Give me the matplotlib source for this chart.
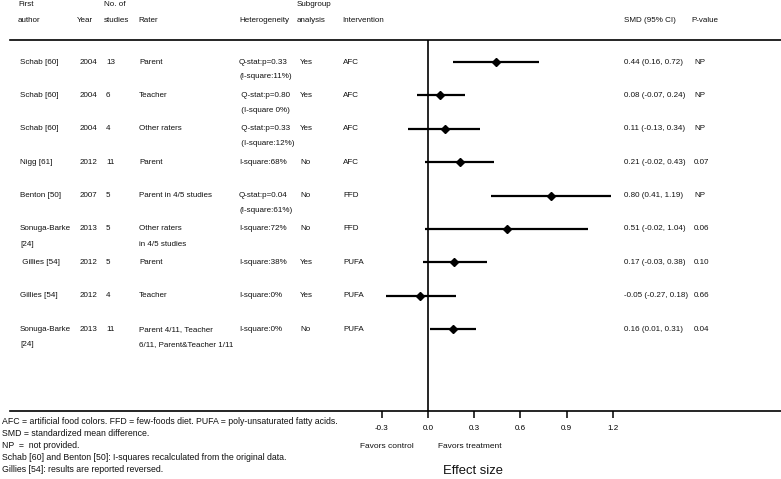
import matplotlib
matplotlib.use("Agg")
import matplotlib.pyplot as plt
from matplotlib import transforms

plt.rcParams['font.family'] = ['Liberation Sans', 'DejaVu Sans']

authors = ["Schab [60]", "Schab [60]", "Schab [60]", "Nigg [61]", "Benton [50]",
           "Sonuga-Barke\n[24]", " Gillies [54]", "Gillies [54]", "Sonuga-Barke\n[24]"]
years = ["2004", "2004", "2004", "2012", "2007", "2013", "2012", "2012", "2013"]
n_studies = ["13", "6", "4", "11", "5", "5", "5", "4", "11"]
raters = ["Parent", "Teacher", "Other raters", "Parent", "Parent in 4/5 studies",
          "Other raters\nin 4/5 studies", "Parent", "Teacher",
          "Parent 4/11, Teacher\n6/11, Parent&Teacher 1/11"]
heterogeneity = ["Q-stat:p=0.33\n(I-square:11%)", " Q-stat:p=0.80\n (I-square 0%)",
                 " Q-stat:p=0.33\n (I-square:12%)", "I-square:68%",
                 "Q-stat:p=0.04\n(I-square:61%)", "I-square:72%", "I-square:38%",
                 "I-square:0%", "I-square:0%"]
subgroup = ["Yes", "Yes", "Yes", "No", "No", "No", "Yes", "Yes", "No"]
intervention = ["AFC", "AFC", "AFC", "AFC", "FFD", "FFD", "PUFA", "PUFA", "PUFA"]
smd = [0.44, 0.08, 0.11, 0.21, 0.80, 0.51, 0.17, -0.05, 0.16]
ci_low = [0.16, -0.07, -0.13, -0.02, 0.41, -0.02, -0.03, -0.27, 0.01]
ci_high = [0.72, 0.24, 0.34, 0.43, 1.19, 1.04, 0.38, 0.18, 0.31]
smd_text = ["0.44 (0.16, 0.72)", "0.08 (-0.07, 0.24)", "0.11 (-0.13, 0.34)",
            "0.21 (-0.02, 0.43)", "0.80 (0.41, 1.19)", "0.51 (-0.02, 1.04)",
            "0.17 (-0.03, 0.38)", "-0.05 (-0.27, 0.18)", "0.16 (0.01, 0.31)"]
p_values = ["NP", "NP", "NP", "0.07", "NP", "0.06", "0.10", "0.66", "0.04"]
xticks = [-0.3, 0.0, 0.3, 0.6, 0.9, 1.2]
footnotes = ["AFC = artificial food colors. FFD = few-foods diet. PUFA = poly-unsaturated fatty acids.",
             "SMD = standardized mean difference.",
             "NP  =  not provided.",
             "Schab [60] and Benton [50]: I-squares recalculated from the original data.",
             "Gillies [54]: results are reported reversed."]

W, H = 781, 479
fig = plt.figure(figsize=(W / 100, H / 100), dpi=100)
fig.patch.set_facecolor('white')

# axes spanning from x=10px to right edge, y=40px to 411px
ax_left, ax_top, ax_bot = 10, 40, 411
ax = fig.add_axes([ax_left / W, (H - ax_bot) / H, 1 - ax_left / W, (ax_bot - ax_top) / H])
px_per_unit = 154.0
zero_px = 428.0
ax.set_xlim((ax_left - zero_px) / px_per_unit, (W - zero_px) / px_per_unit)
row0 = 62.0
row_step = 33.4
ax.set_ylim((ax_bot - row0) / row_step, (ax_top - row0) / row_step)

for s in ['left', 'right']:
    ax.spines[s].set_visible(False)
for s in ['top', 'bottom']:
    ax.spines[s].set_linewidth(1.2)
ax.set_yticks([])
ax.set_xticks(xticks)
ax.set_xticklabels([f"{t:.1f}" for t in xticks])
ax.tick_params(axis='x', direction='out', length=5, width=1.1, pad=5, labelsize=5.8,
               colors='black')
ax.axvline(0, color='black', lw=1.2)

rows = list(range(len(smd)))
for i in rows:
    ax.plot([ci_low[i], ci_high[i]], [i, i], color='black', lw=1.6, solid_capstyle='butt')
ax.plot(smd, rows, linestyle='none', marker='D', color='black', markersize=4.3)

fs = 5.8
blend = transforms.blended_transform_factory(fig.transFigure, ax.transData)
cols = [(20, authors), (80, years), (106, n_studies), (139, raters), (239, heterogeneity),
        (300, subgroup), (343, intervention), (624, smd_text), (694, p_values)]
for x, vals in cols:
    for i, v in enumerate(vals):
        lines = v.split("\n")
        for k, line in enumerate(lines):
            tr = transforms.offset_copy(blend, fig=fig, x=0, y=-15 * k * 0.72, units='points')
            ax.text(x / W, i, line, transform=tr, fontsize=fs, ha='left', va='center',
                    color='#111111', clip_on=False)

# headers
def ftext(x, y, s, **kw):
    fig.text(x / W, 1 - y / H, s, **kw)

headers = [(18, "First", "author"), (77, None, "Year"), (104, "No. of", "studies"),
           (138, None, "Rater"), (239, None, "Heterogeneity"), (297, "Subgroup", "analysis"),
           (342, None, "Intervention"), (624, None, "SMD (95% CI)"), (691, None, "P-value")]
for x, l1, l2 in headers:
    if l1:
        ftext(x, 5, l1, fontsize=fs, ha='left', va='center', color='#111111')
    ftext(x, 20, l2, fontsize=fs, ha='left', va='center', color='#111111')

# favors labels
ftext(387, 446, "Favors control", fontsize=6, ha='center', va='center', color='#111111')
ftext(470, 446, "Favors treatment", fontsize=6, ha='center', va='center', color='#111111')
ftext(473, 471, "Effect size", fontsize=9.4, ha='center', va='center', color='#111111')

for k, line in enumerate(footnotes):
    ftext(2, 421 + 12 * k, line, fontsize=6.3, ha='left', va='center', color='#111111')

fig.savefig("out.png", dpi=100, facecolor='white')
